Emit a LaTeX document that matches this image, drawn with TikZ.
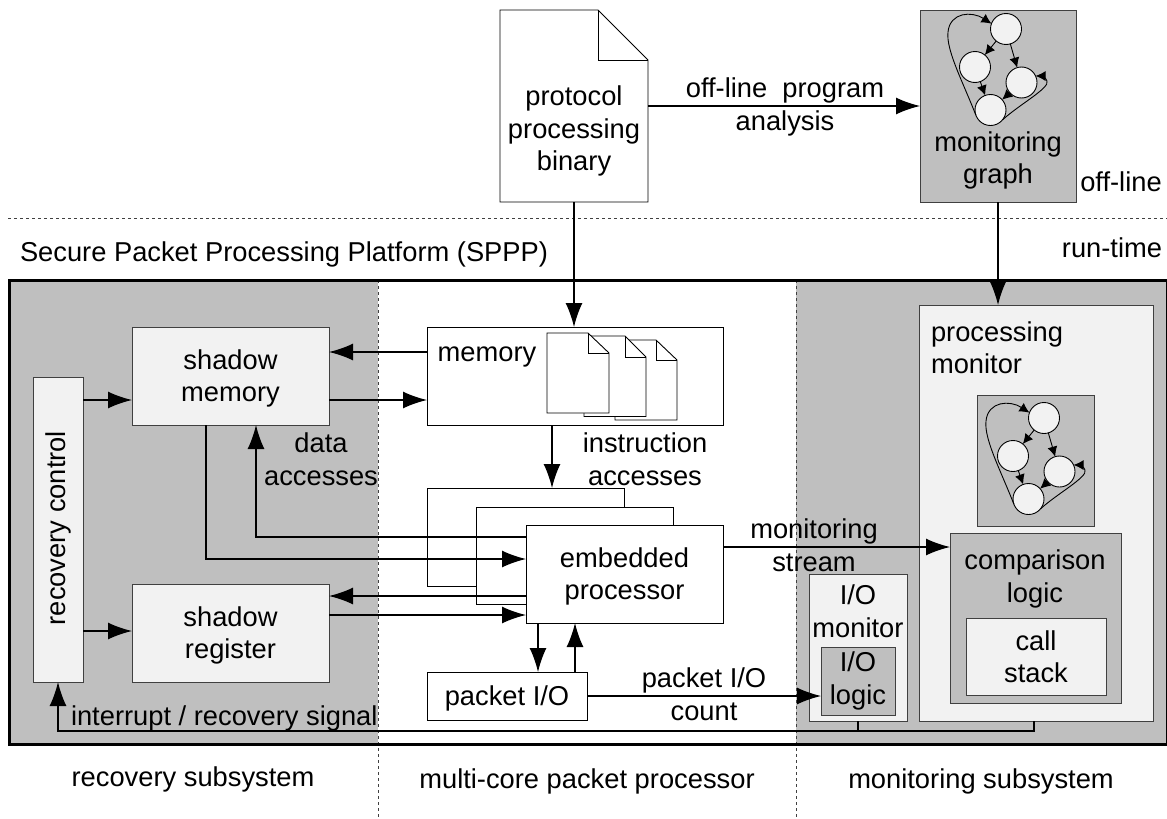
\documentclass[tikz,border=0pt]{standalone}
\usepackage{fontspec}
\setmainfont{Liberation Sans}
\usetikzlibrary{arrows.meta}
\definecolor{grayfill}{HTML}{BFBFBF}
\definecolor{lightfill}{HTML}{F2F2F2}
\definecolor{edgegray}{HTML}{404040}
\tikzset{
  every node/.style={inner sep=0pt,outer sep=0pt,font=\fontsize{27.3}{32.5}\selectfont,align=center},
  every label/.style={yshift=-2.5pt},
  whitebox/.style={draw=black,line width=0.9pt,fill=white},
  lightbox/.style={draw=edgegray,line width=0.9pt,fill=lightfill},
  graybox/.style={draw=edgegray,line width=0.9pt,fill=grayfill},
  plainbox/.style={},
  region/.style={fill=grayfill},
  arr/.style={line width=1.5pt,-{Latex[length=24pt,width=17pt]}},
  wire/.style={line width=1.5pt},
  garr/.style={line width=0.9pt,-{Latex[length=10pt,width=10pt]}},
  state/.style={circle,draw=black,line width=0.9pt,fill=lightfill,minimum size=31pt},
  divider/.style={dashed,line width=0.7pt,draw=edgegray},
  docline/.style={draw=black,line width=0.9pt,fill=white,line join=miter},
}
% style, name, x1, y1, x2, y2, text
\newcommand{\bx}[7]{\node[#1,anchor=north west,minimum width={(#5-#3)*1pt},minimum height={(#6-#4)*1pt},label={center:{#7}}] (#2) at (#3,#4) {};}
% x1,y1,x2,y2,foldx,foldy
\newcommand{\sheet}[6]{\draw[docline] (#1,#2) -- (#5,#2) -- (#3,#6) -- (#3,#4) -- (#1,#4) -- cycle;
  \draw[line width=0.9pt,line join=miter] (#5,#2) -- (#5,#6) -- (#3,#6);}
% prefix, dx, dy
\newcommand{\stategraph}[3]{%
  \node[state] (#1a) at (1006+#2,29+#3) {};
  \node[state] (#1b) at (975+#2,67+#3) {};
  \node[state] (#1c) at (1021.5+#2,82.5+#3) {};
  \node[state] (#1d) at (990.5+#2,110+#3) {};
  \draw[garr] (#1a) -- (#1b);
  \draw[garr] (#1a) -- (#1c);
  \draw[garr] (#1b) -- (#1d);
  \draw[garr] (#1c) -- (#1d);
  \draw[garr] (#1d.200) .. controls (962+#2,80+#3) and (946+#2,50+#3) .. (948+#2,32+#3)
     .. controls (950+#2,12+#3) and (972+#2,11+#3) .. (#1a.160);
  \draw[garr] (#1d.-40) .. controls (1020+#2,104+#3) and (1050+#2,88+#3) .. (1047+#2,81+#3)
     .. controls (1046+#2,78+#3) and (1042+#2,76+#3) .. (#1c.25);
}
\begin{document}
\begin{tikzpicture}[x=1pt,y=-1pt]
\useasboundingbox (0,0) rectangle (1167,819);
% regions
\bx{region}{regleft}{9}{280}{378}{744}{}
\bx{region}{regright}{796}{280}{1167}{744}{}
\draw[divider] (8,218) -- (1167,218);
% source document
\bx{plainbox}{binary}{500}{10}{648}{202}{}
\sheet{500}{10}{648}{202}{598}{60}
\node (binarytxt) at (574,131) {protocol\\processing\\binary};
% offline graph
\bx{graybox}{mgraph}{920}{10}{1076}{202}{}
\stategraph{o}{0}{0}
\node (mgraphtxt) at (998,160.5) {monitoring\\graph};
\node (offline) at (1121,182) {off-line};
\node (runtime) at (1112,248) {run-time};
\node[anchor=west] (sppp) at (20,254.5) {Secure Packet Processing Platform (SPPP)};
% recovery
\bx{lightbox}{recctl}{33}{377}{83}{682}{}
\node[rotate=90] (recctltxt) at (58,528) {recovery control};
\bx{lightbox}{shmem}{132}{327}{329}{425}{shadow\\memory}
\bx{lightbox}{shreg}{132}{584}{329}{682}{shadow\\register}
% memory
\bx{whitebox}{mem}{427}{327}{723}{425}{}
\node (memtxt) at (487,357) {memory};
\sheet{615}{340}{677}{420}{656}{360}
\sheet{584}{336}{646}{416.5}{625}{357}
\sheet{547}{333}{609}{413}{588}{353}
% processors
\bx{whitebox}{procc}{427}{488}{624}{586}{}
\bx{whitebox}{procb}{476.5}{507}{673.5}{604.5}{}
\bx{whitebox}{proca}{526}{525}{723}{623}{embedded\\processor}
\bx{whitebox}{pio}{427}{672}{587}{720}{packet I/O}
% monitoring
\bx{lightbox}{pmon}{919}{305}{1153}{721}{}
\node[anchor=west,align=left] (pmontxt) at (931,347.5) {processing\\monitor};
\bx{graybox}{sgraph}{977}{395}{1094}{526}{}
\stategraph{s}{38}{389}
\bx{graybox}{cmp}{950}{533}{1121}{703}{}
\node (cmptxt) at (1035,579) {comparison\\logic};
\bx{lightbox}{stack}{966}{618}{1106}{695}{}
\node (stacktxt) at (1036,656.5) {call\\stack};
\bx{lightbox}{iomon}{809}{574}{907}{721}{}
\node (iomontxt) at (858,611) {I/O\\monitor};
\bx{graybox}{iologic}{821}{647}{895}{715}{}
\node (iologictxt) at (858,681) {I/O\\logic};
% dividers
\draw[divider] (378,280) -- (378,818);
\draw[divider] (796,280) -- (796,818);
% frame
\draw[line width=3pt] (9,280) rectangle (1167,744);
% connectors
\draw[arr] (binary.east |- 0,106) -- (mgraph.west |- 0,106);
\draw[arr] (binary.south -| 574,0) -- (mem.north -| 574,0);
\draw[arr] (mgraph.south -| 998,0) -- (pmon.north -| 998,0);
\draw[arr] (mem.west |- 0,352) -- (shmem.east |- 0,352);
\draw[arr] (shmem.east |- 0,400) -- (mem.west |- 0,400);
\draw[arr] (recctl.east |- 0,400) -- (shmem.west |- 0,400);
\draw[arr] (recctl.east |- 0,631) -- (shreg.west |- 0,631);
\draw[arr] (shmem.south -| 206,0) |- (proca.west |- 0,559);
\draw[arr] (proca.west |- 0,537) -| (shmem.south -| 256,0);
\draw[arr] (proca.west |- 0,596) -- (shreg.east |- 0,596);
\draw[arr] (shreg.east |- 0,615) -- (proca.west |- 0,615);
\draw[arr] (mem.south -| 552,0) -- (procc.north -| 552,0);
\draw[arr] (proca.south -| 538,0) -- (pio.north -| 538,0);
\draw[arr] (pio.north -| 575,0) -- (proca.south -| 575,0);
\draw[arr] (proca.east |- 0,547) -- (cmp.west |- 0,547);
\draw[arr] (pio.east |- 0,696) -- (iologic.west |- 0,696);
\draw[arr] (pmon.south -| 1034,0) |- (731,731) -| (recctl.south -| 58,0);
\draw[wire] (iomon.south -| 858,0) -- (858,731);
% labels
\node (l1) at (785,107) {off-line\ \ program\\analysis};
\node (l2) at (321,459) {data\\accesses};
\node (l3) at (645,459) {instruction\\accesses};
\node (l4) at (814,545) {monitoring\\stream};
\node (l5) at (704,694) {packet I/O\\count};
\node[anchor=west] (l6) at (71,718) {interrupt / recovery signal};
\node (l7) at (193,779) {recovery subsystem};
\node (l8) at (587,781) {multi-core packet processor};
\node (l9) at (981,781) {monitoring subsystem};
\end{tikzpicture}
\end{document}
